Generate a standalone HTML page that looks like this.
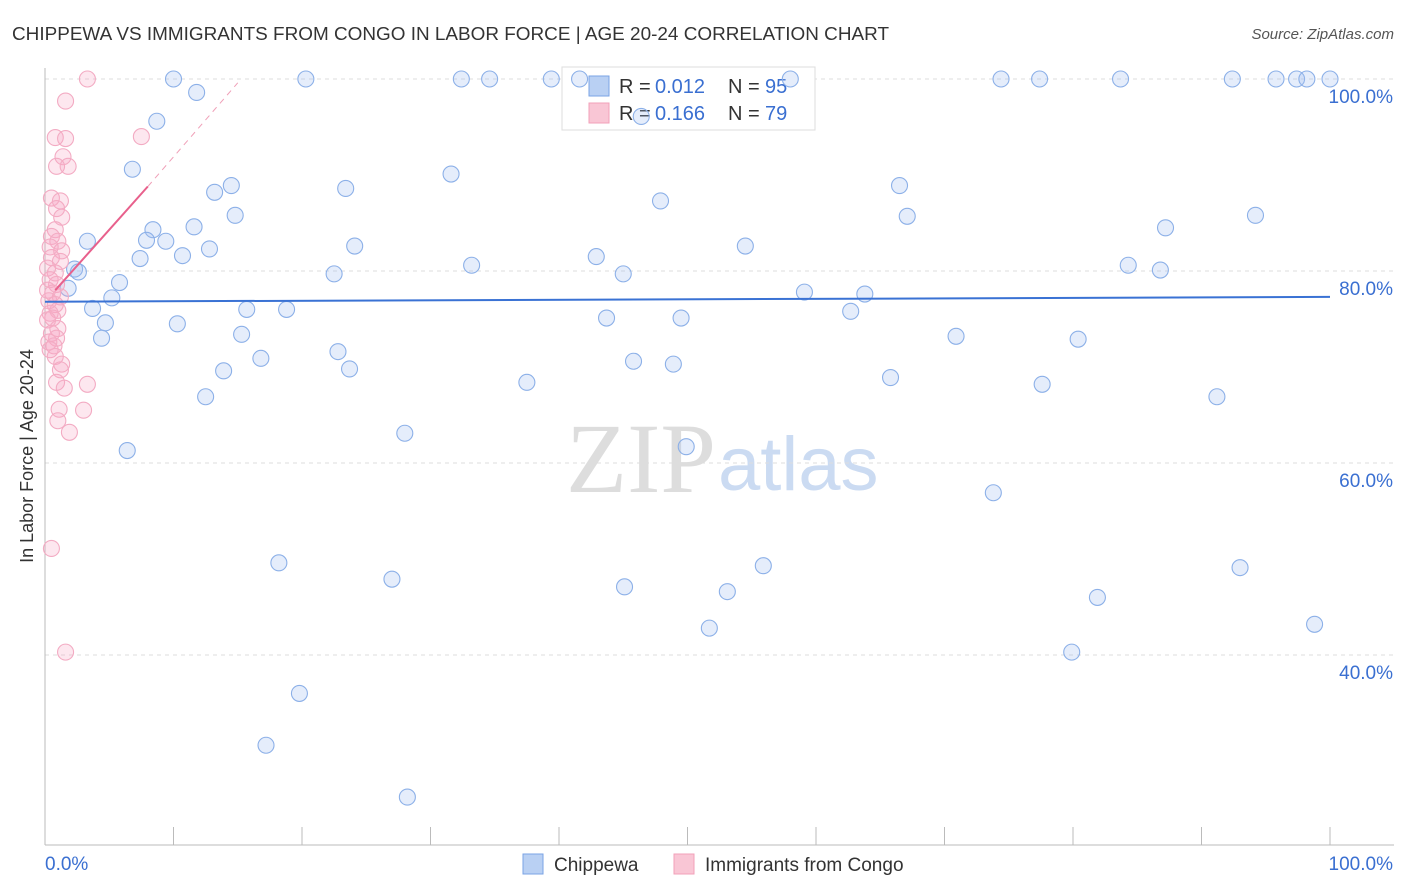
<!DOCTYPE html>
<html><head><meta charset="utf-8">
<style>
html,body{margin:0;padding:0;background:#fff;width:1406px;height:892px;overflow:hidden;font-family:"Liberation Sans",sans-serif;}
</style></head>
<body>
<svg id="chart" width="1406" height="892" xmlns="http://www.w3.org/2000/svg" font-family="Liberation Sans, sans-serif">
<text x="12" y="40" font-size="18" fill="#333" textLength="877" lengthAdjust="spacingAndGlyphs">CHIPPEWA VS IMMIGRANTS FROM CONGO IN LABOR FORCE | AGE 20-24 CORRELATION CHART</text>
<text x="1394" y="39" font-size="15" fill="#555" text-anchor="end" font-style="italic">Source: ZipAtlas.com</text>
<text x="716" y="492" font-size="100" fill="#ddd" text-anchor="end" font-family="Liberation Serif, serif">ZIP</text>
<text x="718" y="490" font-size="76" fill="#cbdbf2">atlas</text>
<text transform="translate(33,456) rotate(-90)" font-size="18" fill="#333" text-anchor="middle">In Labor Force | Age 20-24</text>
<g id="grid"></g>
<g id="axes"></g>
<g>
<rect x="562" y="67" width="253" height="63" fill="#fff" stroke="#ddd"/>
<rect x="589" y="76" width="20" height="20" fill="#b9d0f3" stroke="#7aa3e4"/>
<rect x="589" y="103" width="20" height="20" fill="#f9c6d5" stroke="#f2a0b9"/>
<text x="619" y="93" font-size="20" fill="#333">R =</text>
<text x="655" y="93" font-size="20" fill="#3a6fd1">0.012</text>
<text x="728" y="93" font-size="20" fill="#333">N =</text>
<text x="765" y="93" font-size="20" fill="#3a6fd1">95</text>
<text x="619" y="120" font-size="20" fill="#333">R =</text>
<text x="655" y="120" font-size="20" fill="#3a6fd1">0.166</text>
<text x="728" y="120" font-size="20" fill="#333">N =</text>
<text x="765" y="120" font-size="20" fill="#3a6fd1">79</text>
</g>
<g id="points"></g>
<g id="trends"></g>
<g>
<rect x="523" y="854" width="20" height="20" fill="#b9d0f3" stroke="#7aa3e4"/>
<text x="554" y="871" font-size="19" fill="#333">Chippewa</text>
<rect x="674" y="854" width="20" height="20" fill="#f9c6d5" stroke="#f2a0b9"/>
<text x="705" y="871" font-size="19" fill="#333">Immigrants from Congo</text>
</g>
</svg>
<script>
const yTicks=[100,80,60,40];
const yTickLabels=["100.0%","80.0%","60.0%","40.0%"];
const xTicks=[0,10,20,30,40,50,60,70,80,90,100];
const blueX=[10.0,11.8,20.3,32.4,34.6,39.4,41.6,58.0,74.4,77.4,83.7,92.4,95.8,97.4,98.2,100,46.4,8.7,6.8,31.6,14.5,13.2,23.4,66.5,47.9,14.8,67.1,94.2,8.4,11.6,87.2,3.3,7.9,9.4,24.1,54.5,12.8,10.7,7.4,42.9,33.2,84.3,86.8,2.3,2.6,22.5,45.0,5.8,1.8,59.1,63.8,5.2,3.7,15.7,18.8,62.7,43.7,49.5,4.7,10.3,15.3,4.4,80.4,70.9,22.8,16.8,45.8,48.9,23.7,13.9,65.8,37.5,77.6,12.5,91.2,28.0,49.9,6.4,73.8,18.2,27.0,55.9,45.1,53.1,93.0,81.9,51.7,98.8,79.9,19.8,17.2,28.2];
const blueY=[100,98.6,100,100,100,100,100,100,100,100,100,100,100,100,100,100,96.1,95.6,90.6,90.1,88.9,88.2,88.6,88.9,87.3,85.8,85.7,85.8,84.3,84.6,84.5,83.1,83.2,83.1,82.6,82.6,82.3,81.6,81.3,81.5,80.6,80.6,80.1,80.2,79.9,79.7,79.7,78.8,78.2,77.8,77.6,77.2,76.1,76.0,76.0,75.8,75.1,75.1,74.6,74.5,73.4,73.0,72.9,73.2,71.6,70.9,70.6,70.3,69.8,69.6,68.9,68.4,68.2,66.9,66.9,63.1,61.7,61.3,56.9,49.6,47.9,49.3,47.1,46.6,49.1,46.0,42.8,43.2,40.3,36.0,30.6,25.2];
const pinkX=[3.3,1.6,7.5,0.8,1.6,1.4,0.9,1.8,0.5,1.2,0.9,1.3,0.8,0.5,1.0,0.4,1.3,0.5,1.2,0.2,0.8,0.4,0.9,0.2,0.6,1.2,0.3,0.8,1.0,0.4,0.6,0.2,1.0,0.5,0.9,0.3,0.7,0.4,0.8,1.3,1.2,0.9,3.3,1.5,1.1,3.0,1.0,1.9,0.5,1.6];
const pinkY=[100,97.7,94.0,93.9,93.8,91.9,90.9,90.9,87.6,87.3,86.5,85.6,84.3,83.6,83.1,82.5,82.1,81.4,81.0,80.3,79.8,79.1,78.6,78.0,77.7,77.3,76.9,76.5,75.9,75.6,75.1,74.9,74.0,73.5,73.0,72.6,72.2,71.8,71.1,70.3,69.7,68.4,68.2,67.8,65.6,65.5,64.4,63.2,51.1,40.3];
const blueTrend=[[0,76.8],[100,77.3]];
const pinkTrendSolid=[[0.8,78.0],[8.0,88.8]];
const pinkTrendDash=[[8.0,88.8],[15.0,99.6]];

const NS="http://www.w3.org/2000/svg";
const X=v=>45+v*12.85;
const Y=v=>79+(100-v)*9.6;
function mk(tag,attrs,parent){const e=document.createElementNS(NS,tag);for(const k in attrs)e.setAttribute(k,attrs[k]);parent.appendChild(e);return e;}
const grid=document.getElementById('grid'),axes=document.getElementById('axes'),pts=document.getElementById('points'),tr=document.getElementById('trends');
yTicks.forEach((t,i)=>{
  const l=mk('line',{x1:45,x2:1394,y1:Y(t),y2:Y(t),stroke:'#ddd','stroke-dasharray':'4,4'},grid);
  
  
  const tx=mk('text',{x:1393,y:Y(t)+24,'font-size':19,fill:'#3a6fd1','text-anchor':'end'},axes);
  tx.textContent=yTickLabels[i];
  
  
});
const al=mk('line',{x1:45,x2:45,y1:68,y2:845,stroke:'#bbb'},axes);


const bl=mk('line',{x1:45,x2:1394,y1:845,y2:845,stroke:'#bbb'},axes);


xTicks.forEach(t=>{
  const k=mk('line',{x1:X(t),x2:X(t),y1:827,y2:845,stroke:'#bbb'},axes);
  
  
});
const x0=mk('text',{x:45,y:870,'font-size':19,fill:'#3a6fd1'},axes);x0.textContent='0.0%';


const x1=mk('text',{x:1393,y:870,'font-size':19,fill:'#3a6fd1','text-anchor':'end'},axes);x1.textContent='100.0%';


blueX.forEach((v,i)=>{
  const c=mk('circle',{cx:X(v),cy:Y(blueY[i]),r:8,fill:'rgba(160,192,242,0.28)',stroke:'#8cb0e8','stroke-width':1.1},pts);
  
  
});
pinkX.forEach((v,i)=>{
  const c=mk('circle',{cx:X(v),cy:Y(pinkY[i]),r:8,fill:'rgba(247,170,198,0.28)',stroke:'#f3abc3','stroke-width':1.1},pts);
  
  
});
const b=mk('line',{x1:X(blueTrend[0][0]),y1:Y(blueTrend[0][1]),x2:X(blueTrend[1][0]),y2:Y(blueTrend[1][1]),stroke:'#3a72d4','stroke-width':2},tr);


const p=mk('line',{x1:X(pinkTrendSolid[0][0]),y1:Y(pinkTrendSolid[0][1]),x2:X(pinkTrendSolid[1][0]),y2:Y(pinkTrendSolid[1][1]),stroke:'#e8608c','stroke-width':2},tr);


const pd=mk('line',{x1:X(pinkTrendDash[0][0]),y1:Y(pinkTrendDash[0][1]),x2:X(pinkTrendDash[1][0]),y2:Y(pinkTrendDash[1][1]),stroke:'#f0a0b8','stroke-width':1,'stroke-dasharray':'6,5'},tr);


</script>
</body></html>
